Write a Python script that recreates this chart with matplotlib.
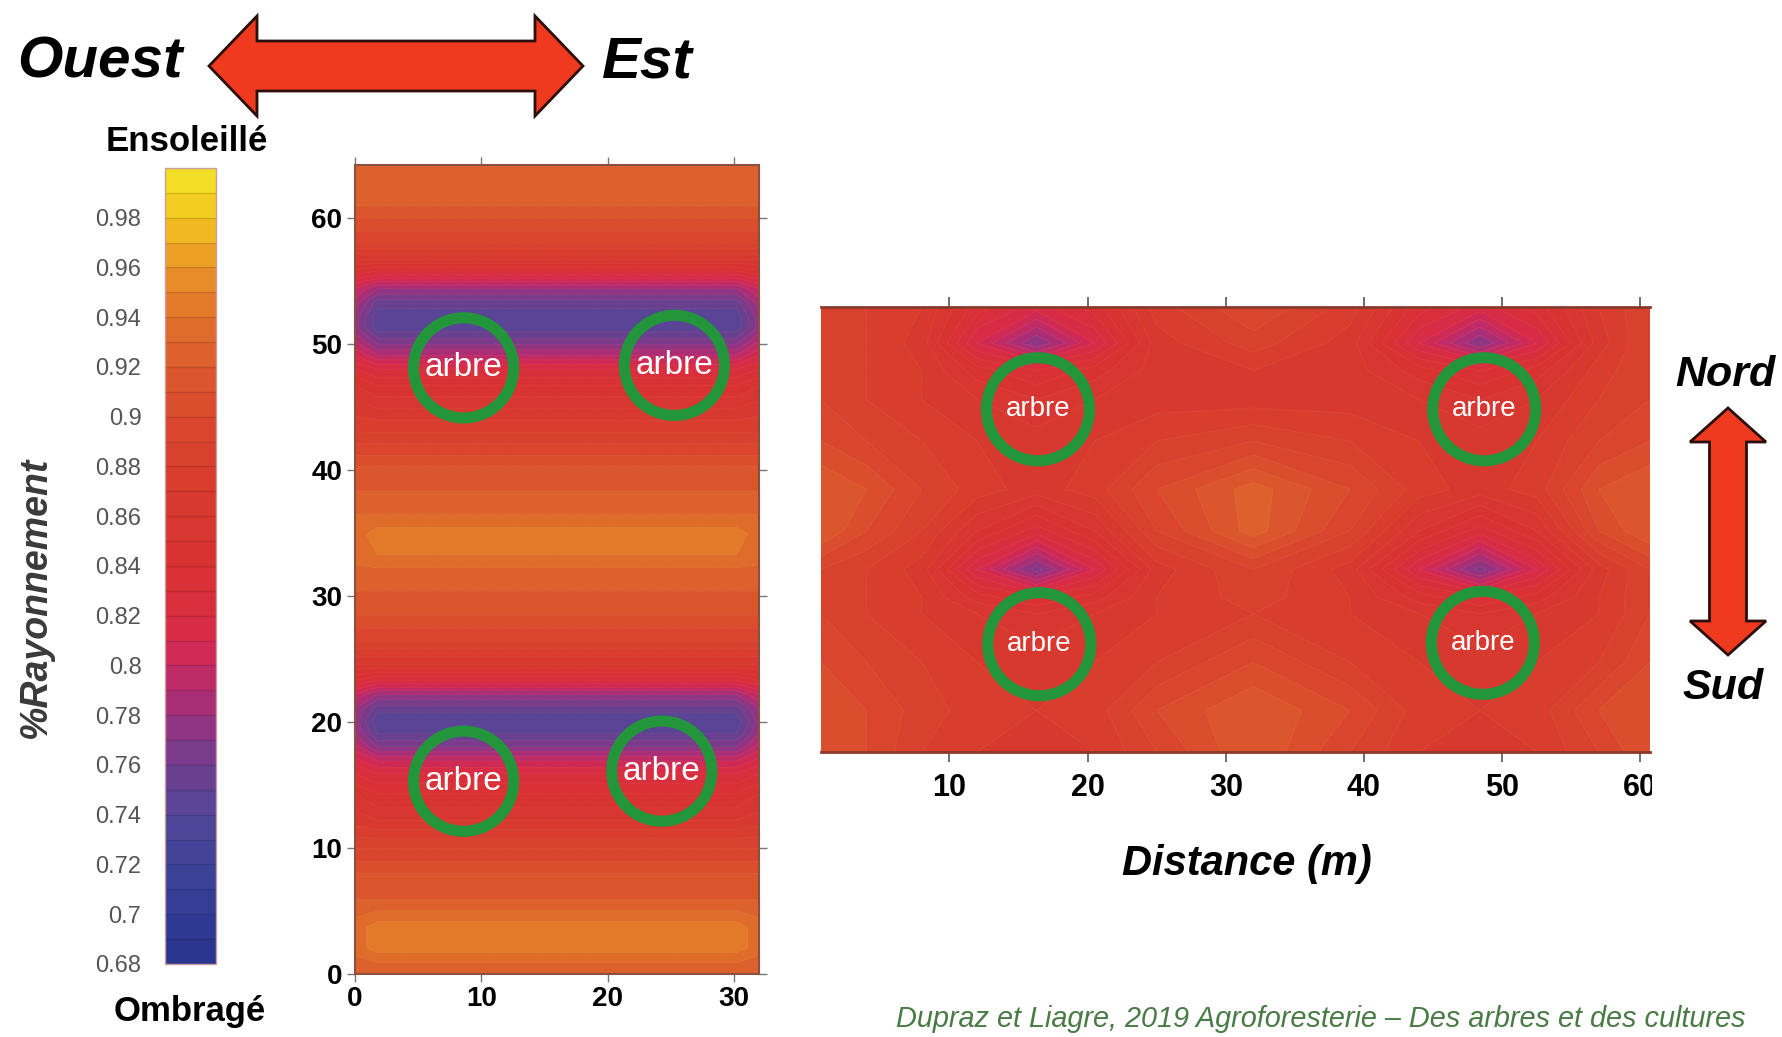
import numpy as np
import matplotlib
matplotlib.use("Agg")
import matplotlib.pyplot as plt
from matplotlib.colors import LinearSegmentedColormap
from matplotlib.patches import Polygon, Rectangle

W, H = 1782, 1037

# colour scale (%Rayonnement)
scale_vals = [0.68, 0.70, 0.72, 0.74, 0.75, 0.76, 0.77, 0.78, 0.79, 0.80, 0.81, 0.82,
              0.84, 0.86, 0.88, 0.90, 0.92, 0.94, 0.95, 0.96, 0.97, 0.98, 1.00]
scale_cols = ['#28348c', '#303c94', '#3e4498', '#524597', '#5f4393', '#6f3e8d', '#833889',
              '#9c317f', '#b42c6f', '#c72a5e', '#d62a4e', '#d92c40', '#d93232', '#d8372f',
              '#d83e2e', '#d9472d', '#dc5a2d', '#e0702b', '#e4802a', '#e99428', '#eeaa24',
              '#f2c21f', '#f4e426']
levels = np.arange(0.68, 1.0001, 0.01)
cbar_ticks = np.arange(0.68, 0.985, 0.02)

# left map (rows N-S): profile along y, read in the middle and at the E/W edges
mid_x = [0, 1.8, 30.2, 32]
mid_y = [0, 0.9, 2.1, 3.7, 5.9, 8, 10, 12.2, 14.3, 15.9, 16.9, 18, 19.1, 20.1, 21.1,
         22.2, 23.3, 24.6, 26.4, 28.5, 30.4, 31.7, 33.3, 34.9, 36.5, 38.3, 39.9, 41.2,
         43, 44.9, 46.7, 48, 49.1, 50.2, 51.2, 52, 53.3, 54.4, 55.5, 56.7, 58, 60, 62, 64.2]
mid_center = [0.92, 0.93, 0.945, 0.945, 0.92, 0.91, 0.89, 0.86, 0.84, 0.82, 0.80, 0.77,
              0.75, 0.742, 0.755, 0.78, 0.82, 0.86, 0.89, 0.91, 0.92, 0.925, 0.94, 0.945,
              0.93, 0.92, 0.915, 0.90, 0.88, 0.86, 0.84, 0.82, 0.79, 0.765, 0.745, 0.742,
              0.755, 0.78, 0.82, 0.86, 0.89, 0.91, 0.93, 0.93]
mid_edge = [0.92, 0.925, 0.935, 0.935, 0.92, 0.91, 0.89, 0.865, 0.85, 0.83, 0.815, 0.795,
            0.78, 0.775, 0.78, 0.80, 0.83, 0.86, 0.89, 0.91, 0.92, 0.925, 0.935, 0.935,
            0.93, 0.92, 0.915, 0.90, 0.88, 0.865, 0.85, 0.83, 0.81, 0.79, 0.775, 0.775,
            0.785, 0.80, 0.83, 0.86, 0.89, 0.91, 0.93, 0.93]
mid_tree_x = [8.6, 25.3, 8.6, 24.3]
mid_tree_y = [48.1, 48.3, 15.3, 16.1]

# right map (rows E-W): coarse grid
right_x = [0.7, 4, 8, 12, 16.3, 20.5, 25, 32, 39, 44, 48.4, 52.5, 57, 60.7]
right_y = [0, 3, 6.5, 10, 11.2, 13.2, 16, 19, 22.5, 25.5, 27.6, 29.6, 32.2]
right_values = [
    [0.91, 0.90, 0.88, 0.87, 0.865, 0.87, 0.89, 0.92, 0.89, 0.87, 0.865, 0.87, 0.89, 0.91],
    [0.91, 0.90, 0.885, 0.875, 0.87, 0.875, 0.90, 0.92, 0.90, 0.875, 0.87, 0.875, 0.90, 0.91],
    [0.90, 0.89, 0.88, 0.87, 0.865, 0.87, 0.88, 0.90, 0.88, 0.87, 0.865, 0.87, 0.88, 0.90],
    [0.89, 0.88, 0.87, 0.86, 0.85, 0.86, 0.87, 0.88, 0.87, 0.86, 0.85, 0.86, 0.87, 0.89],
    [0.89, 0.88, 0.87, 0.845, 0.83, 0.845, 0.87, 0.885, 0.87, 0.845, 0.83, 0.845, 0.87, 0.89],
    [0.89, 0.88, 0.865, 0.81, 0.765, 0.81, 0.865, 0.89, 0.865, 0.81, 0.765, 0.81, 0.865, 0.89],
    [0.92, 0.90, 0.88, 0.85, 0.825, 0.85, 0.89, 0.925, 0.89, 0.85, 0.825, 0.85, 0.90, 0.92],
    [0.92, 0.91, 0.89, 0.875, 0.865, 0.875, 0.90, 0.925, 0.90, 0.875, 0.865, 0.875, 0.91, 0.92],
    [0.90, 0.89, 0.88, 0.87, 0.865, 0.87, 0.88, 0.89, 0.88, 0.87, 0.865, 0.87, 0.89, 0.90],
    [0.89, 0.88, 0.87, 0.86, 0.85, 0.86, 0.865, 0.865, 0.865, 0.86, 0.85, 0.86, 0.88, 0.89],
    [0.89, 0.88, 0.87, 0.845, 0.83, 0.845, 0.865, 0.87, 0.865, 0.845, 0.83, 0.845, 0.875, 0.89],
    [0.89, 0.88, 0.865, 0.81, 0.77, 0.81, 0.865, 0.885, 0.865, 0.81, 0.77, 0.81, 0.865, 0.89],
    [0.89, 0.88, 0.87, 0.835, 0.815, 0.835, 0.875, 0.90, 0.875, 0.835, 0.815, 0.835, 0.87, 0.89],
]
right_tree_x = [16.4, 48.7, 16.5, 48.6]
right_tree_y = [24.8, 24.8, 7.8, 7.9]

SANS = ['Liberation Sans', 'DejaVu Sans']
GREEN = '#23963c'

pos = [round((v - 0.68) / 0.32, 6) for v in scale_vals]
cmap = LinearSegmentedColormap.from_list('ray', list(zip(pos, scale_cols)))

fig = plt.figure(figsize=(W / 100, H / 100), dpi=100)


def frac(px, py):
    return px / W, 1 - py / H


def rect(l, t, r, b):
    x0, y1 = frac(l, t)
    x1, y0 = frac(r, b)
    return [x0, y0, x1 - x0, y1 - y0]


# ---- left map
ax1 = fig.add_axes(rect(355, 165, 759, 974))
mid_field = np.column_stack([mid_edge, mid_center, mid_center, mid_edge])
cs = ax1.contourf(mid_x, mid_y, mid_field, levels=levels, cmap=cmap, vmin=0.68, vmax=1.0)
ax1.contour(mid_x, mid_y, mid_field, levels=levels, colors='#f3b090', linewidths=0.5,
            linestyles=':', alpha=0.25)
ax1.set_xlim(0, 32)
ax1.set_ylim(0, 64.2)
ax1.set_xticks([0, 10, 20, 30])
ax1.set_yticks([0, 10, 20, 30, 40, 50, 60])
ax1.tick_params(direction='out', length=6, width=1, color='#777777', top=True, right=True,
                labelsize=20, pad=3)
for lab in ax1.get_xticklabels() + ax1.get_yticklabels():
    lab.set_fontweight('bold')
    lab.set_family(SANS)
for sp in ax1.spines.values():
    sp.set_color('#8a5040')
    sp.set_linewidth(1.5)
ax1.scatter(mid_tree_x, mid_tree_y, s=5200, facecolors='none', edgecolors=GREEN,
            linewidths=8, zorder=3)
for x, y in zip(mid_tree_x, mid_tree_y):
    ax1.text(x, y, 'arbre', color='white', ha='center', va='center', fontsize=24,
             family=SANS, zorder=4)

# ---- right map
ax2 = fig.add_axes(rect(821, 307, 1650, 752))
ax2.contourf(right_x, right_y, right_values, levels=levels, cmap=cmap, vmin=0.68, vmax=1.0)
ax2.contour(right_x, right_y, right_values, levels=levels, colors='#f3b090',
            linewidths=0.5, linestyles=':', alpha=0.3)
ax2.set_xlim(0.7, 60.7)
ax2.set_ylim(0, 32.2)
ax2.set_xticks([10, 20, 30, 40, 50, 60])
ax2.set_yticks([])
ax2.tick_params(axis='x', direction='out', length=7, width=1.2, color='#555555', top=True,
                labelsize=22, pad=8)
for lab in ax2.get_xticklabels():
    lab.set_fontweight('bold')
    lab.set_family(SANS)
for side in ('left', 'right'):
    ax2.spines[side].set_visible(False)
for side in ('top', 'bottom'):
    ax2.spines[side].set_color('#8a3a2a')
    ax2.spines[side].set_linewidth(2)
ax2.scatter(right_tree_x, right_tree_y, s=5500, facecolors='none', edgecolors=GREEN,
            linewidths=8, zorder=3)
for x, y in zip(right_tree_x, right_tree_y):
    ax2.text(x, y, 'arbre', color='white', ha='center', va='center', fontsize=20,
             family=SANS, zorder=4)

# ---- colour bar
cax = fig.add_axes(rect(165, 168, 216, 964))
cb = fig.colorbar(cs, cax=cax, ticks=cbar_ticks)
cb.outline.set_edgecolor('#c9a0a0')
cb.outline.set_linewidth(1)
cax.set_ylim(0.68, 1.0)
for lv in levels:
    cax.axhline(lv, color='#000000', alpha=0.12, lw=1)
cax.yaxis.set_ticks_position('left')
cax.set_yticklabels([f"{t:.2f}".rstrip('0') for t in cbar_ticks])
cax.tick_params(length=0, pad=17, labelsize=17, labelcolor='#555555')
for lab in cax.get_yticklabels():
    lab.set_family(SANS)

# ---- texts
fig.text(*frac(187, 142), 'Ensoleillé', ha='center', va='center', fontsize=25,
         fontweight='bold', family=SANS)
fig.text(*frac(190, 1011), 'Ombragé', ha='center', va='center', fontsize=25,
         fontweight='bold', family=SANS)
fig.text(*frac(36, 597), '%Rayonnement', ha='center', va='center', rotation=90,
         fontsize=27, fontweight='bold', style='italic', color='#3a3a3a', family=SANS)
fig.text(*frac(183, 63), 'Ouest', ha='right', va='center', fontsize=42,
         fontweight='bold', style='italic', family=SANS)
fig.text(*frac(602, 63), 'Est', ha='left', va='center', fontsize=42,
         fontweight='bold', style='italic', family=SANS)
fig.text(*frac(1247, 864), 'Distance (m)', ha='center', va='center', fontsize=30,
         fontweight='bold', style='italic', family=SANS)
fig.text(*frac(1725, 375), 'Nord', ha='center', va='center', fontsize=31,
         fontweight='bold', style='italic', family=SANS)
fig.text(*frac(1723, 688), 'Sud', ha='center', va='center', fontsize=31,
         fontweight='bold', style='italic', family=SANS)
fig.text(*frac(896, 1019), 'Dupraz et Liagre, 2019 Agroforesterie – Des arbres et des cultures',
         ha='left', va='center', fontsize=20.8, style='italic', color='#4a7a45', family=SANS)

# ---- arrows
def darrow(p0, p1, head_len, head_half, shaft_half):
    p0 = np.array(p0, float)
    p1 = np.array(p1, float)
    d = (p1 - p0) / np.linalg.norm(p1 - p0)
    n = np.array([-d[1], d[0]])
    a, b = p0 + d * head_len, p1 - d * head_len
    pts = [p0, a + n * head_half, a + n * shaft_half, b + n * shaft_half, b + n * head_half,
           p1, b - n * head_half, b - n * shaft_half, a - n * shaft_half, a - n * head_half]
    pts = [frac(*p) for p in pts]
    fig.patches.append(Polygon(pts, closed=True, transform=fig.transFigure,
                               facecolor='#f03a1f', edgecolor='#2a0f0a', linewidth=2,
                               joinstyle='miter', zorder=5))


darrow((209, 66), (583, 66), 48, 50, 25)
darrow((1728, 408), (1728, 655), 34, 38, 18.5)

# the reference image is cropped through the "60" label
fig.patches.append(Rectangle(frac(1652, 812), 130 / W, 50 / H, transform=fig.transFigure,
                             facecolor='white', edgecolor='none', zorder=10))

fig.savefig('out.png', dpi=100)
